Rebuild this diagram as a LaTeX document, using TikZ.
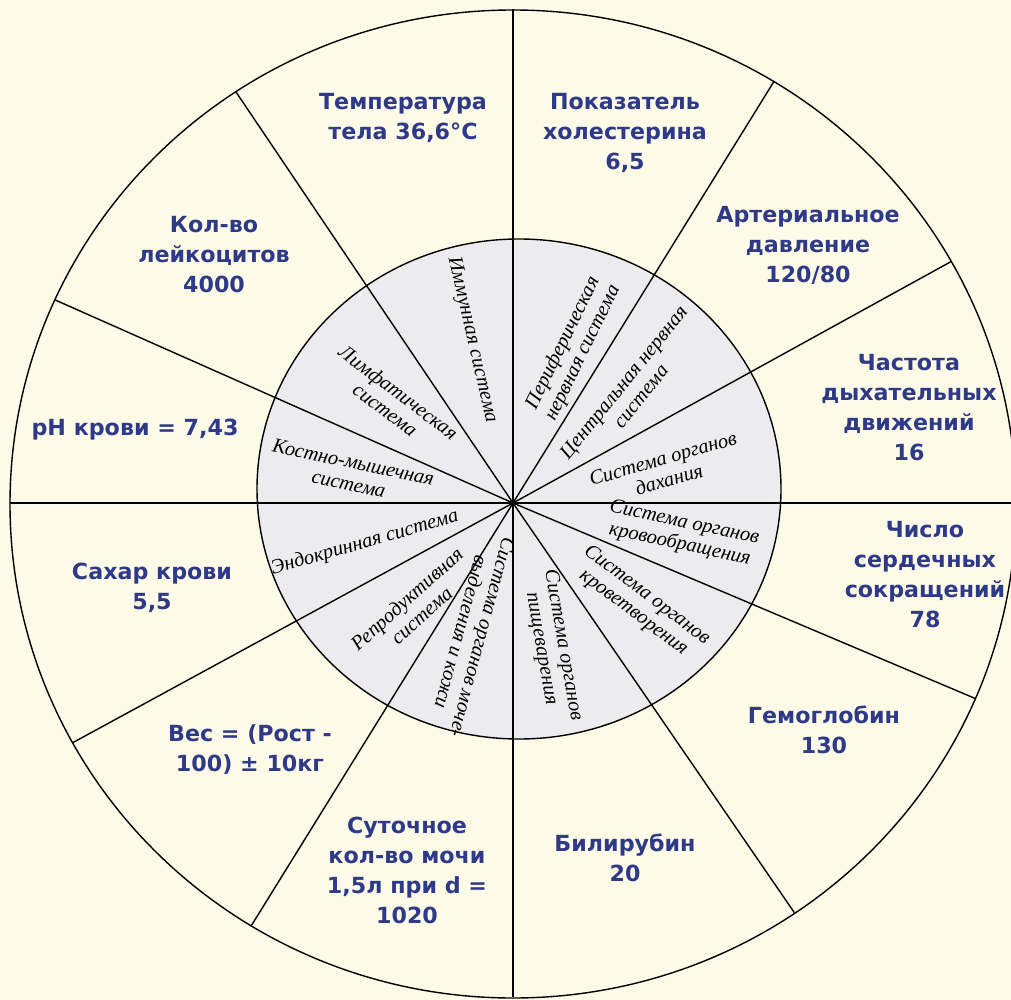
\documentclass[tikz,border=0pt]{standalone}
\usepackage{fontspec}
\setmainfont{Liberation Serif}
\newfontfamily\valfont{DejaVu Sans}
\usetikzlibrary{positioning}
\definecolor{cream}{HTML}{FDFBE7}
\definecolor{disc}{HTML}{ECECEF}
\definecolor{ink}{HTML}{2E3A88}

\begin{document}
\begin{tikzpicture}[x=0.5pt,y=-0.5pt,
  val/.style={font=\valfont\bfseries\fontsize{11.1}{15}\selectfont,text=ink,
              align=center,inner sep=0pt},
  sys/.style={font=\itshape\fontsize{10.2}{11}\selectfont,align=center,inner sep=0pt},
  rim/.style={line width=0.7pt}]
\fill[cream] (0,0) rectangle (1011,1000);
\useasboundingbox (0,0) rectangle (1011,1000);
\clip (0,0) rectangle (1011,1000);
\coordinate (c) at (513,503);
% wheel
\draw[rim] (513,504) ellipse [x radius=503, y radius=494];
\draw[rim,fill=disc] (519,489) ellipse [x radius=262, y radius=250];
\foreach \a in {-90,-58.7,-29.3,0,23.3,56,90,121.3,151,180,204.3,236.5}
  \draw[rim] (c) -- ++(\a:503 and 494);
% outer ring: values
\node[val] (temp) at (403,118) {Температура\\тела 36,6°C};
\node[val] (chol) at (625,133) {Показатель\\холестерина\\6,5};
\node[val] (press) at (808,245) {Артериальное\\давление\\120/80};
\node[val] (breath) at (909,408) {Частота\\дыхательных\\движений\\16};
\node[val] (pulse) at (925,575) {Число\\сердечных\\сокращений\\78};
\node[val] (hgb) at (824,730) {Гемоглобин\\130};
\node[val] (bili) at (625,858) {Билирубин\\20};
\node[val] (urine) at (407,870) {Суточное\\кол-во мочи\\1,5л при d =\\1020};
\node[val] (weight) at (250,750) {Вес = (Рост -\\100) ± 10кг};
\node[val] (sugar) at (152,588) {Сахар крови\\5,5};
\node[val] (ph) at (135,430) {pH крови = 7,43};
\node[val] (leuk) at (214,255) {Кол-во\\лейкоцитов\\4000};
% inner disc: systems
\node[sys,rotate=-77] (immune) at (472,340) {Иммунная система};
\node[sys,rotate=-37] (lymph) at (392,401) {Лимфатическая\\система};
\node[sys,rotate=-12] (musc) at (351,473) {Костно-мышечная\\система};
\node[sys,rotate=16] (endo) at (365,543) {Эндокринная система};
\node[sys,rotate=42] (repro) at (414,607) {Репродуктивная\\система};
\node[sys,rotate=-105] (excr) at (472,635) {Система органов моче-\\выделения и кожи};
\node[sys,rotate=-80] (digest) at (552,647) {Система органов\\пищеварения};
\node[sys,rotate=-37] (blood) at (640,604) {Система органов\\кроветворения};
\node[sys,rotate=-12] (circ) at (682,534) {Система органов\\кровообращения};
\node[sys,rotate=16] (resp) at (666,469) {Система органов\\дахания};
\node[sys,rotate=51] (cns) at (632,389) {Центральная нервная\\система};
\node[sys,rotate=64] (pns) at (573,348) {Периферическая\\нервная система};
\end{tikzpicture}
\end{document}
